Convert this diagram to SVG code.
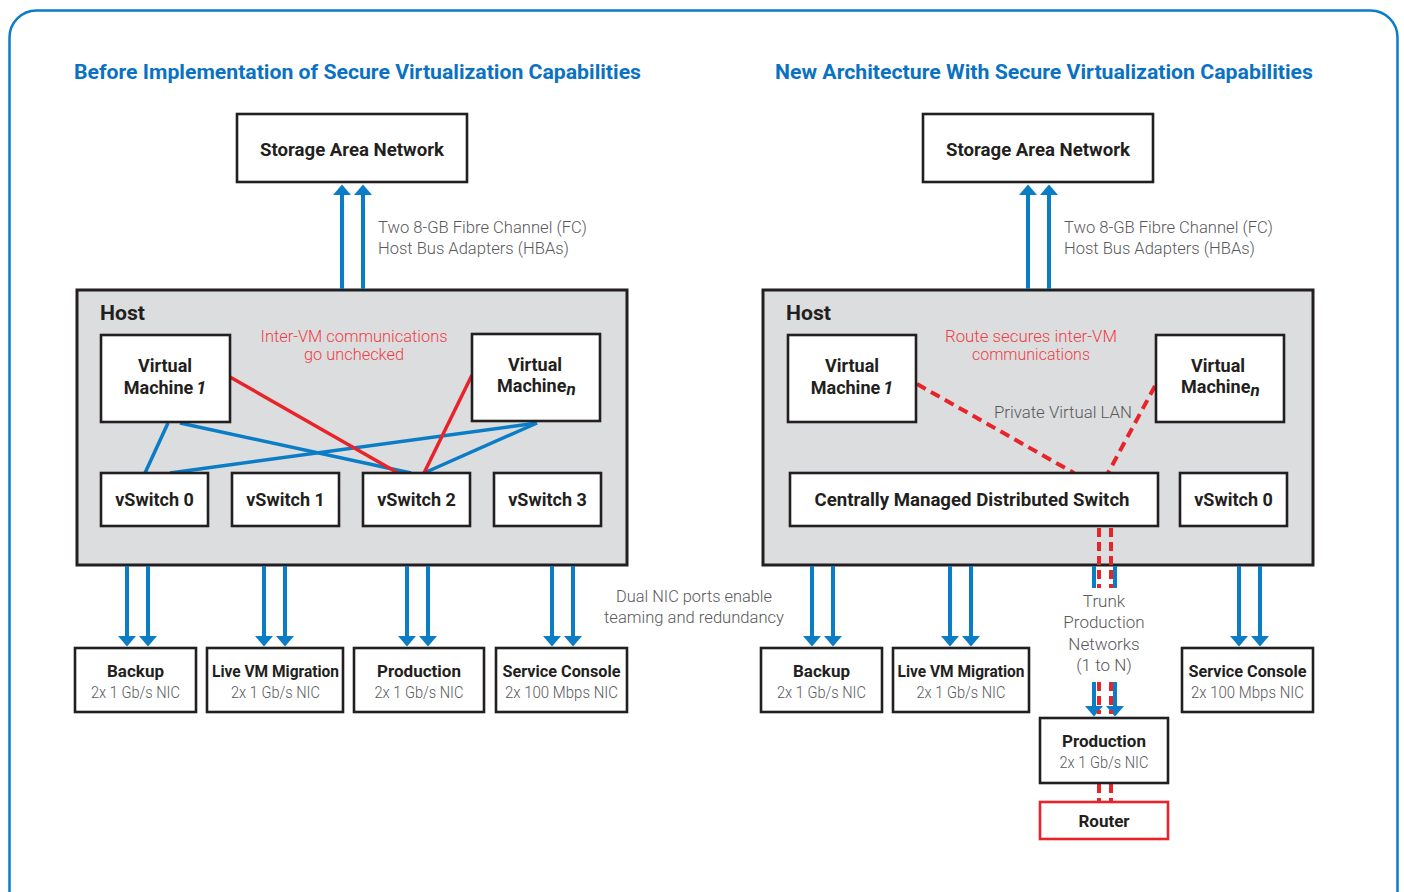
<svg xmlns="http://www.w3.org/2000/svg" width="1404" height="892" viewBox="0 0 1404 892">
  <defs>
    <marker id="arrow" markerUnits="userSpaceOnUse" markerWidth="12" markerHeight="20" viewBox="0 -10 11 20" refX="0" refY="0" orient="auto">
      <path d="M0,-9 L10.5,0 L0,9 z" fill="#0a7dc6"/>
    </marker>
    <style>
      .frame { fill: none; stroke: #0a7dc6; stroke-width: 2.5; }
      .box { fill: #ffffff; stroke: #231f20; stroke-width: 2.6; }
      .host { fill: #dcdddf; stroke: #231f20; stroke-width: 3; }
      .router { fill: #ffffff; stroke: #e8242b; stroke-width: 2.6; }
      .title { font-family: Roboto, "Liberation Sans", sans-serif; font-weight: 700; font-size: 20px; fill: #0a72c2; }
      .lbl { font-family: Roboto, "Liberation Sans", sans-serif; font-weight: 700; font-size: 18px; fill: #231f20; }
      .sm { font-family: Roboto, "Liberation Sans", sans-serif; font-weight: 700; font-size: 17px; fill: #231f20; }
      .note { font-family: Roboto, "Liberation Sans", sans-serif; font-weight: 300; font-size: 17px; fill: #58595b; }
      .sub { font-family: Roboto, "Liberation Sans", sans-serif; font-weight: 300; font-size: 16.5px; fill: #58595b; }
      .warn { font-family: Roboto, "Liberation Sans", sans-serif; font-weight: 300; font-size: 17px; fill: #ef3e45; }
      .mid { text-anchor: middle; }
      .flow { stroke: #0a7dc6; stroke-width: 4; fill: none; }
      .link { stroke: #0a7dc6; stroke-width: 3.5; fill: none; }
      .bad { stroke: #e8242b; stroke-width: 3.5; fill: none; }
      .vlan { stroke: #e8242b; stroke-width: 4; fill: none; stroke-dasharray: 10 6; }
      .trunk { stroke: #e8242b; stroke-width: 4; fill: none; stroke-dasharray: 9 5; }
    </style>
  </defs>

  <!-- outer frame -->
  <rect class="frame" x="9.5" y="10.5" width="1388" height="910" rx="27"/>

  <!-- panel titles -->
  <text class="title" x="74" y="79" textLength="567" lengthAdjust="spacingAndGlyphs">Before Implementation of Secure Virtualization Capabilities</text>
  <text class="title" x="775" y="79" textLength="538" lengthAdjust="spacingAndGlyphs">New Architecture With Secure Virtualization Capabilities</text>

  <!-- ===== left panel ===== -->
  <g id="l-san">
    <rect class="box" x="237" y="114" width="230" height="68"/>
    <text class="lbl mid" x="352" y="156" textLength="184" lengthAdjust="spacingAndGlyphs">Storage Area Network</text>
  </g>
  <g id="l-hba-note">
    <text class="note" x="378" y="233" textLength="209" lengthAdjust="spacingAndGlyphs">Two 8-GB Fibre Channel (FC)</text>
    <text class="note" x="378" y="254" textLength="191" lengthAdjust="spacingAndGlyphs">Host Bus Adapters (HBAs)</text>
  </g>
  <g id="l-host">
    <rect class="host" x="77" y="290" width="550" height="275"/>
    <text class="lbl" x="100" y="320" style="font-size:21px" textLength="45" lengthAdjust="spacingAndGlyphs">Host</text>
  </g>
  <g id="l-warn">
    <text class="warn mid" x="354" y="342" textLength="187" lengthAdjust="spacingAndGlyphs">Inter-VM communications</text>
    <text class="warn mid" x="354" y="360" textLength="100" lengthAdjust="spacingAndGlyphs">go unchecked</text>
  </g>

  <g id="l-connectors">
    <line class="link" x1="168" y1="423" x2="145" y2="473"/>
    <line class="link" x1="180" y1="423" x2="411" y2="473"/>
    <line class="link" x1="537" y1="423" x2="170" y2="473"/>
    <line class="link" x1="537" y1="423" x2="424" y2="473"/>
    <line class="bad" x1="230" y1="377" x2="398" y2="473"/>
    <line class="bad" x1="472" y1="375" x2="424" y2="473"/>
    <line class="flow" x1="342" y1="289" x2="342" y2="195" marker-end="url(#arrow)"/>
    <line class="flow" x1="363" y1="289" x2="363" y2="195" marker-end="url(#arrow)"/>
    <line class="flow" x1="127" y1="566" x2="127" y2="636" marker-end="url(#arrow)"/>
    <line class="flow" x1="148" y1="566" x2="148" y2="636" marker-end="url(#arrow)"/>
    <line class="flow" x1="264" y1="566" x2="264" y2="636" marker-end="url(#arrow)"/>
    <line class="flow" x1="285" y1="566" x2="285" y2="636" marker-end="url(#arrow)"/>
    <line class="flow" x1="407" y1="566" x2="407" y2="636" marker-end="url(#arrow)"/>
    <line class="flow" x1="428" y1="566" x2="428" y2="636" marker-end="url(#arrow)"/>
    <line class="flow" x1="552" y1="566" x2="552" y2="636" marker-end="url(#arrow)"/>
    <line class="flow" x1="573" y1="566" x2="573" y2="636" marker-end="url(#arrow)"/>
  </g>

  <g id="l-vm1">
    <rect class="box" x="101" y="335" width="129" height="87"/>
    <text class="lbl mid" x="165" y="372">Virtual</text>
    <text class="lbl mid" x="165" y="394">Machine<tspan dx="3" font-style="italic">1</tspan></text>
  </g>
  <g id="l-vmn">
    <rect class="box" x="472" y="334" width="128" height="87"/>
    <text class="lbl mid" x="535" y="371">Virtual</text>
    <text class="lbl" x="497" y="392">Machine<tspan dy="3" font-style="italic" font-size="17">n</tspan></text>
  </g>
  <g id="l-vs0">
    <rect class="box" x="101" y="473" width="107" height="53"/>
    <text class="lbl mid" x="154.5" y="506">vSwitch 0</text>
  </g>
  <g id="l-vs1">
    <rect class="box" x="232" y="473" width="107" height="53"/>
    <text class="lbl mid" x="285.5" y="506">vSwitch 1</text>
  </g>
  <g id="l-vs2">
    <rect class="box" x="363" y="473" width="107" height="53"/>
    <text class="lbl mid" x="416.5" y="506">vSwitch 2</text>
  </g>
  <g id="l-vs3">
    <rect class="box" x="494" y="473" width="107" height="53"/>
    <text class="lbl mid" x="547.5" y="506">vSwitch 3</text>
  </g>

  <g id="l-backup">
    <rect class="box" x="75" y="648" width="121" height="64"/>
    <text class="sm mid" x="135.5" y="677">Backup</text>
    <text class="sub mid" x="135.5" y="698" textLength="89" lengthAdjust="spacingAndGlyphs">2x 1 Gb/s NIC</text>
  </g>
  <g id="l-migration">
    <rect class="box" x="207" y="648" width="136" height="64"/>
    <text class="sm mid" x="275.5" y="677" textLength="127" lengthAdjust="spacingAndGlyphs">Live VM Migration</text>
    <text class="sub mid" x="275.5" y="698" textLength="89" lengthAdjust="spacingAndGlyphs">2x 1 Gb/s NIC</text>
  </g>
  <g id="l-production">
    <rect class="box" x="354" y="648" width="130" height="64"/>
    <text class="sm mid" x="419" y="677">Production</text>
    <text class="sub mid" x="419" y="698" textLength="89" lengthAdjust="spacingAndGlyphs">2x 1 Gb/s NIC</text>
  </g>
  <g id="l-console">
    <rect class="box" x="496" y="648" width="131" height="64"/>
    <text class="sm mid" x="561.5" y="677" textLength="118" lengthAdjust="spacingAndGlyphs">Service Console</text>
    <text class="sub mid" x="561.5" y="698" textLength="113" lengthAdjust="spacingAndGlyphs">2x 100 Mbps NIC</text>
  </g>

  <g id="nic-note">
    <text class="note mid" x="694" y="602" textLength="156" lengthAdjust="spacingAndGlyphs">Dual NIC ports enable</text>
    <text class="note mid" x="694" y="623" textLength="180" lengthAdjust="spacingAndGlyphs">teaming and redundancy</text>
  </g>

  <!-- ===== right panel ===== -->
  <g id="r-san">
    <rect class="box" x="923" y="114" width="230" height="68"/>
    <text class="lbl mid" x="1038" y="156" textLength="184" lengthAdjust="spacingAndGlyphs">Storage Area Network</text>
  </g>
  <g id="r-hba-note">
    <text class="note" x="1064" y="233" textLength="209" lengthAdjust="spacingAndGlyphs">Two 8-GB Fibre Channel (FC)</text>
    <text class="note" x="1064" y="254" textLength="191" lengthAdjust="spacingAndGlyphs">Host Bus Adapters (HBAs)</text>
  </g>
  <g id="r-host">
    <rect class="host" x="763" y="290" width="550" height="275"/>
    <text class="lbl" x="786" y="320" style="font-size:21px" textLength="45" lengthAdjust="spacingAndGlyphs">Host</text>
  </g>
  <g id="r-note">
    <text class="warn mid" x="1031" y="342" textLength="172" lengthAdjust="spacingAndGlyphs">Route secures inter-VM</text>
    <text class="warn mid" x="1031" y="360" textLength="118" lengthAdjust="spacingAndGlyphs">communications</text>
    <text class="note" x="994" y="418" textLength="138" lengthAdjust="spacingAndGlyphs">Private Virtual LAN</text>
  </g>

  <g id="r-connectors">
    <line class="vlan" x1="917" y1="384" x2="1074" y2="473"/>
    <line class="vlan" x1="1155" y1="386" x2="1108" y2="473"/>
    <line class="flow" x1="1028" y1="289" x2="1028" y2="195" marker-end="url(#arrow)"/>
    <line class="flow" x1="1049" y1="289" x2="1049" y2="195" marker-end="url(#arrow)"/>
    <line class="flow" x1="812" y1="566" x2="812" y2="636" marker-end="url(#arrow)"/>
    <line class="flow" x1="833" y1="566" x2="833" y2="636" marker-end="url(#arrow)"/>
    <line class="flow" x1="950" y1="566" x2="950" y2="636" marker-end="url(#arrow)"/>
    <line class="flow" x1="971" y1="566" x2="971" y2="636" marker-end="url(#arrow)"/>
    <line class="flow" x1="1239" y1="566" x2="1239" y2="636" marker-end="url(#arrow)"/>
    <line class="flow" x1="1260" y1="566" x2="1260" y2="636" marker-end="url(#arrow)"/>
    <!-- trunk to production -->
    <line class="flow" x1="1094" y1="566" x2="1094" y2="588"/>
    <line class="flow" x1="1115" y1="566" x2="1115" y2="588"/>
    <line class="flow" x1="1094" y1="682" x2="1094" y2="706" marker-end="url(#arrow)"/>
    <line class="flow" x1="1115" y1="682" x2="1115" y2="706" marker-end="url(#arrow)"/>
    <line class="trunk" x1="1099" y1="528" x2="1099" y2="588"/>
    <line class="trunk" x1="1111" y1="528" x2="1111" y2="588"/>
    <line class="trunk" x1="1099" y1="682" x2="1099" y2="714"/>
    <line class="trunk" x1="1111" y1="682" x2="1111" y2="714"/>
    <line class="trunk" x1="1099" y1="784" x2="1099" y2="801" stroke-dasharray="7 4"/>
    <line class="trunk" x1="1111" y1="784" x2="1111" y2="801" stroke-dasharray="7 4"/>
  </g>

  <g id="r-vm1">
    <rect class="box" x="788" y="335" width="128" height="87"/>
    <text class="lbl mid" x="852" y="372">Virtual</text>
    <text class="lbl mid" x="852" y="394">Machine<tspan dx="3" font-style="italic">1</tspan></text>
  </g>
  <g id="r-vmn">
    <rect class="box" x="1156" y="335" width="128" height="87"/>
    <text class="lbl mid" x="1218" y="372">Virtual</text>
    <text class="lbl" x="1181" y="393">Machine<tspan dy="3" font-style="italic" font-size="17">n</tspan></text>
  </g>
  <g id="r-dswitch">
    <rect class="box" x="790" y="473" width="368" height="53"/>
    <text class="lbl mid" x="972" y="506" textLength="315" lengthAdjust="spacingAndGlyphs">Centrally Managed Distributed Switch</text>
  </g>
  <g id="r-vs0">
    <rect class="box" x="1180" y="473" width="107" height="53"/>
    <text class="lbl mid" x="1233.5" y="506">vSwitch 0</text>
  </g>

  <g id="r-trunk-note">
    <text class="note mid" x="1104" y="607">Trunk</text>
    <text class="note mid" x="1104" y="628">Production</text>
    <text class="note mid" x="1104" y="650">Networks</text>
    <text class="note mid" x="1104" y="671">(1 to N)</text>
  </g>

  <g id="r-backup">
    <rect class="box" x="761" y="648" width="121" height="64"/>
    <text class="sm mid" x="821.5" y="677">Backup</text>
    <text class="sub mid" x="821.5" y="698" textLength="89" lengthAdjust="spacingAndGlyphs">2x 1 Gb/s NIC</text>
  </g>
  <g id="r-migration">
    <rect class="box" x="893" y="648" width="136" height="64"/>
    <text class="sm mid" x="961" y="677" textLength="127" lengthAdjust="spacingAndGlyphs">Live VM Migration</text>
    <text class="sub mid" x="961" y="698" textLength="89" lengthAdjust="spacingAndGlyphs">2x 1 Gb/s NIC</text>
  </g>
  <g id="r-console">
    <rect class="box" x="1182" y="648" width="131" height="64"/>
    <text class="sm mid" x="1247.5" y="677" textLength="118" lengthAdjust="spacingAndGlyphs">Service Console</text>
    <text class="sub mid" x="1247.5" y="698" textLength="113" lengthAdjust="spacingAndGlyphs">2x 100 Mbps NIC</text>
  </g>
  <g id="r-production">
    <rect class="box" x="1040" y="718" width="128" height="65"/>
    <text class="sm mid" x="1104" y="747">Production</text>
    <text class="sub mid" x="1104" y="768" textLength="89" lengthAdjust="spacingAndGlyphs">2x 1 Gb/s NIC</text>
  </g>
  <g id="r-router">
    <rect class="router" x="1040" y="802" width="128" height="37"/>
    <text class="sm mid" x="1104" y="827">Router</text>
  </g>
</svg>
